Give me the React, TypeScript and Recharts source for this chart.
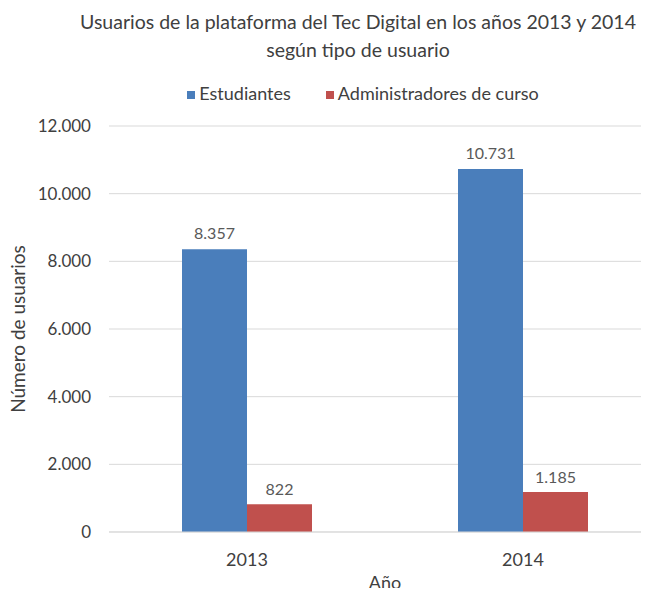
import { BarChart, Bar, XAxis, YAxis, CartesianGrid, Legend, LabelList } from "recharts";

const years = ["2013", "2014"];
const estudiantes = [8357, 10731];
const administradores = [822, 1185];
const yTicks = [0, 2000, 4000, 6000, 8000, 10000, 12000];

const data = years.map((year, i) => ({
  year,
  estudiantes: estudiantes[i],
  administradores: administradores[i],
}));

const font = "Lato, 'Open Sans', sans-serif";
const textColor = "#404040";
const fmt = (v: number) => v.toLocaleString("de-DE");
const seriesOrder: Record<string, number> = { estudiantes: 0, administradores: 1 };

const App = () => {
  return (
    <div style={{ position: "relative", margin: -8, width: 649, height: 596, overflow: "hidden", background: "#fff", fontFamily: font }}>
      <div style={{ position: "absolute", top: 8, left: 0, width: 716, textAlign: "center", fontSize: 19.5, lineHeight: "28px", color: textColor }}>
        Usuarios de la plataforma del Tec Digital en los años 2013 y 2014
        <br />
        según tipo de usuario
      </div>
      <BarChart
        width={720}
        height={596}
        data={data}
        margin={{ top: 104, right: 59, bottom: 0, left: 0 }}
        barGap={0}
        barSize={65}
      >
        <CartesianGrid vertical={false} stroke="#d9d9d9" />
        <XAxis
          dataKey="year"
          height={64}
          axisLine={{ stroke: "#d9d9d9" }}
          tickLine={false}
          tickMargin={15}
          tick={{ fill: textColor, fontSize: 18, fontFamily: font }}
          label={{ value: "Año", position: "insideBottom", offset: 7, fill: textColor, fontSize: 18, fontFamily: font }}
        />
        <YAxis
          width={109}
          domain={[0, 12000]}
          ticks={yTicks}
          tickFormatter={fmt}
          axisLine={false}
          tickLine={false}
          tickMargin={12}
          tick={{ fill: textColor, fontSize: 17, fontFamily: font }}
          label={{ value: "Número de usuarios", angle: -90, position: "insideLeft", offset: 18, fill: textColor, fontSize: 19, fontFamily: font, style: { textAnchor: "middle" } }}
        />
        <Legend
          verticalAlign="top"
          iconType="square"
          iconSize={8}
          itemSorter={(item: any) => seriesOrder[item.dataKey] ?? 0}
          wrapperStyle={{ top: 82, left: 0, width: 736, fontSize: 18, fontFamily: font, color: textColor }}
          formatter={(value, _entry, index) => (
            <span style={{ color: textColor, marginRight: index === 0 ? 25 : 0 }}>{value}</span>
          )}
        />
        <Bar dataKey="estudiantes" name="Estudiantes" fill="#4a7ebb" isAnimationActive={false}>
          <LabelList dataKey="estudiantes" position="top" offset={10} formatter={(v: any) => fmt(Number(v))} fill="#595959" fontSize={16} fontFamily={font} />
        </Bar>
        <Bar dataKey="administradores" name="Administradores de curso" fill="#c0504d" isAnimationActive={false}>
          <LabelList dataKey="administradores" position="top" offset={9} formatter={(v: any) => fmt(Number(v))} fill="#595959" fontSize={16} fontFamily={font} />
        </Bar>
      </BarChart>
    </div>
  );
};

export default App;
